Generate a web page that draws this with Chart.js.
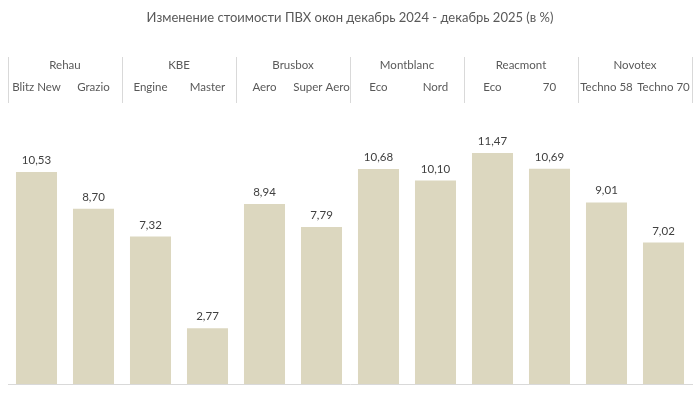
<!DOCTYPE html>
<html>
<head>
<meta charset="utf-8">
<script src="https://cdn.jsdelivr.net/npm/chart.js@4"></script>
<style>
    body { margin: 0; background: #fff; }
    #wrap { width: 700px; height: 400px; }
</style>
</head>
<body>
<div id="wrap"><canvas id="prices"></canvas></div>
<script>
let brands = ['Rehau', 'KBE', 'Brusbox', 'Montblanc', 'Reacmont', 'Novotex'];
let models = ['Blitz New', 'Grazio', 'Engine', 'Master', 'Aero', 'Super Aero',
    'Eco', 'Nord', 'Eco', '70', 'Techno 58', 'Techno 70'];
let changes = [10.53, 8.70, 7.32, 2.77, 8.94, 7.79, 10.68, 10.10, 11.47, 10.69, 9.01, 7.02];

let fontFamily = 'Lato, "Liberation Sans", sans-serif';

// separators between brand groups + value labels above bars
let headerPlugin = {
    id: 'header',
    afterDraw(chart) {
        let ctx = chart.ctx;
        let brandScale = chart.scales.x2;
        let step = brandScale.width / brands.length;
        ctx.save();
        ctx.strokeStyle = '#d9d9d9';
        ctx.lineWidth = 1;
        for (let i = 0; i <= brands.length; i++) {
            let x = Math.round(brandScale.left + i * step) + 0.5;
            ctx.beginPath();
            ctx.moveTo(x, 57);
            ctx.lineTo(x, 103);
            ctx.stroke();
        }

        let meta = chart.getDatasetMeta(0);
        ctx.fillStyle = '#404040';
        ctx.font = '11.5px ' + fontFamily;
        ctx.textAlign = 'center';
        ctx.textBaseline = 'bottom';
        meta.data.forEach((bar, i) => {
            let label = changes[i].toFixed(2).replace('.', ',');
            ctx.fillText(label, bar.x, bar.y - 6);
        });
        ctx.restore();
    }
};

let tickFont = { family: fontFamily, size: 11.5, lineHeight: 1.2 };

let ctx = document.getElementById('prices').getContext('2d');
new Chart(ctx, {
    type: 'bar',
    data: {
        labels: models,
        datasets: [{
            label: 'Изменение, %',
            data: changes,
            backgroundColor: '#dcd7bf',
            barPercentage: 0.72,
            categoryPercentage: 1
        }]
    },
    options: {
        responsive: true,
        maintainAspectRatio: false,
        animation: false,
        layout: {
            padding: { left: 8, right: 8, bottom: 16, top: 0 }
        },
        plugins: {
            legend: { display: false },
            tooltip: { enabled: false },
            title: {
                display: true,
                text: 'Изменение стоимости ПВХ окон декабрь 2024 - декабрь 2025 (в %)',
                color: '#595959',
                font: { family: fontFamily, size: 13, weight: 'normal', lineHeight: 1.2 },
                padding: { top: 10, bottom: 29.4 }
            }
        },
        scales: {
            gap: {
                type: 'category',
                position: 'top',
                weight: -1,
                grid: { display: false, drawTicks: false },
                border: { display: false },
                ticks: { display: false },
                afterFit: s => { s.height = 44.5; }
            },
            x: {
                position: 'top',
                offset: true,
                weight: 0,
                grid: { display: false, drawTicks: false },
                border: { display: false },
                ticks: {
                    color: '#595959',
                    font: tickFont,
                    padding: 4,
                    maxRotation: 0,
                    autoSkip: false
                }
            },
            x2: {
                type: 'category',
                labels: brands,
                position: 'top',
                offset: true,
                weight: 1,
                grid: { display: false, drawTicks: false },
                border: { display: false },
                ticks: {
                    color: '#595959',
                    font: tickFont,
                    padding: 3.6,
                    maxRotation: 0,
                    autoSkip: false
                }
            },
            xb: {
                type: 'category',
                position: 'bottom',
                grid: { display: false, drawTicks: false },
                border: { display: true, color: '#d9d9d9', width: 1 },
                ticks: { display: false }
            },
            y: {
                display: false,
                min: 0,
                max: 12
            }
        }
    },
    plugins: [headerPlugin]
});
</script>
</body>
</html>
